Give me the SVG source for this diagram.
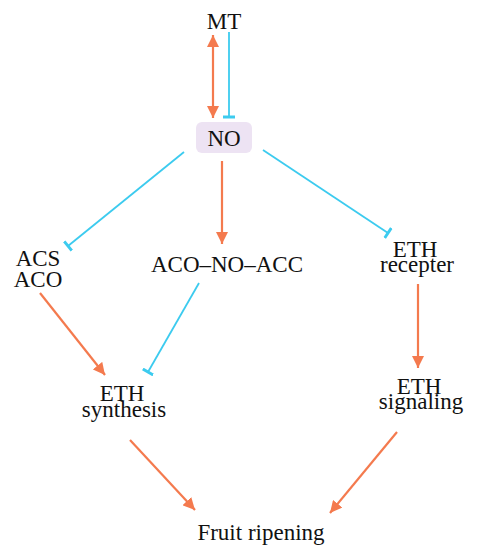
<svg xmlns="http://www.w3.org/2000/svg" width="483" height="550" viewBox="0 0 483 550">
<defs>
<style>
text{font-family:"Liberation Serif","Times New Roman",serif;font-size:23px;fill:#111;text-anchor:middle}
.act{stroke:#F47A4E;stroke-width:2.2;fill:none}
.inh{stroke:#3CCBEF;stroke-width:1.8;fill:none}
</style>
<marker id="ah" viewBox="0 0 12 12" refX="12" refY="6" markerWidth="12" markerHeight="12" markerUnits="userSpaceOnUse" orient="auto-start-reverse">
<path d="M0,0 L12,6 L0,12 Z" fill="#F47A4E"/>
</marker>
<marker id="tb" viewBox="0 0 4 12" refX="2" refY="6" markerWidth="4" markerHeight="12" markerUnits="userSpaceOnUse" orient="auto">
<rect x="0.5" y="0" width="3" height="12" fill="#3CCBEF"/>
</marker>
</defs>
<rect width="483" height="550" fill="#fff"/>
<g id="connectors">
<line class="act" x1="213" y1="35" x2="213" y2="118" marker-start="url(#ah)" marker-end="url(#ah)"/>
<line class="inh" x1="229" y1="32" x2="229" y2="117" marker-end="url(#tb)"/>
<line class="inh" x1="184" y1="152" x2="68" y2="246" marker-end="url(#tb)"/>
<line class="act" x1="222" y1="161" x2="222" y2="244" marker-end="url(#ah)"/>
<line class="inh" x1="263" y1="150" x2="388" y2="233" marker-end="url(#tb)"/>
<line class="act" x1="40" y1="293" x2="105" y2="375" marker-end="url(#ah)"/>
<line class="inh" x1="199" y1="283" x2="148" y2="372" marker-end="url(#tb)"/>
<line class="act" x1="418" y1="284" x2="418" y2="368" marker-end="url(#ah)"/>
<line class="act" x1="130" y1="440" x2="195" y2="510" marker-end="url(#ah)"/>
<line class="act" x1="397" y1="432" x2="330" y2="513" marker-end="url(#ah)"/>
</g>
<g id="MT"><text x="224" y="29">MT</text></g>
<g id="NO"><rect x="196" y="122" width="56" height="31" rx="6" fill="#EDE3F3"/><text x="224" y="146">NO</text></g>
<g id="ACS_ACO"><text x="38" y="266">ACS</text><text x="38" y="287">ACO</text></g>
<g id="ACO_NO_ACC"><text x="227" y="272">ACO–NO–ACC</text></g>
<g id="ETH_recepter"><text x="415" y="257">ETH</text><text x="417" y="272">recepter</text></g>
<g id="ETH_synthesis"><text x="122" y="401">ETH</text><text x="124" y="417">synthesis</text></g>
<g id="ETH_signaling"><text x="419" y="394">ETH</text><text x="421" y="409">signaling</text></g>
<g id="Fruit_ripening"><text x="261" y="540">Fruit ripening</text></g>
</svg>
